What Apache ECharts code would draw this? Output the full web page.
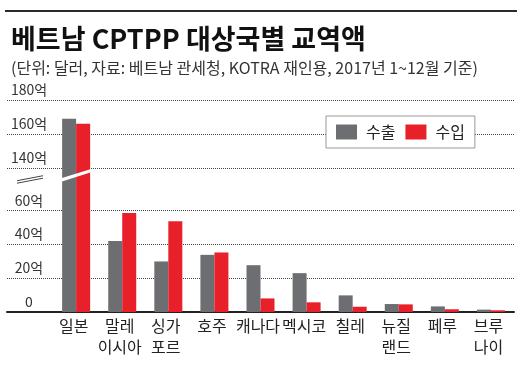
<!DOCTYPE html>
<html>
<head>
<meta charset="utf-8">
<script src="https://cdn.jsdelivr.net/npm/echarts@6/dist/echarts.min.js"></script>
<style>
html, body { margin: 0; padding: 0; background: #fff; }
#main { width: 524px; height: 377px; }
</style>
</head>
<body>
<div id="main"></div>
<script>
// 국가별 (단위: 억 달러)
var categories = ['일본', '말레\n이시아', '싱가\n포르', '호주', '캐나다', '멕시코', '칠레', '뉴질\n랜드', '페루', '브루\n나이'];
var exportData = [169, 41.8, 29.8, 33.7, 27.6, 22.9, 9.8, 4.7, 3.3, 1.4];
var importData = [166, 58.4, 53.5, 35.1, 8.0, 5.7, 3.1, 4.5, 1.6, 1.0];
var tickValues = [0, 20, 40, 60, 140, 160, 180];

// 축 생략 구간 (60억 ~ 140억)
var breakLow = 60, breakHigh = 140, breakGap = 25;
function toAxis(v) {
    if (v == null) return null;
    return v <= breakLow ? v : v - breakHigh + breakLow + breakGap;
}
function tickLabel(v) {
    return v === 0 ? '0' : v + '억';
}

var FONT = '"Noto Sans CJK KR", "Noto Sans", sans-serif';
var myChart = echarts.init(document.getElementById('main'), null, { renderer: 'canvas' });

var xData = [''].concat(categories);
var s1 = [null].concat(exportData.map(toAxis));
var s2 = [null].concat(importData.map(toAxis));
var gridLines = tickValues.filter(function (v) { return v > 0; }).map(function (v) {
    return { yAxis: toAxis(v) };
});

var option = {
    animation: false,
    color: ['#6d6e71', '#e8202a'],
    textStyle: { fontFamily: FONT },
    title: {
        text: '베트남 CPTPP 대상국별 교역액',
        subtext: '(단위: 달러, 자료: 베트남 관세청, KOTRA 재인용, 2017년 1~12월 기준)',
        left: 6,
        top: 20,
        itemGap: 8,
        textStyle: { fontFamily: FONT, fontSize: 27, fontWeight: 'bold', color: '#111' },
        subtextStyle: { fontFamily: FONT, fontSize: 16, color: '#333' }
    },
    legend: {
        data: ['수출', '수입'],
        left: 326,
        top: 116,
        padding: [8, 10, 8, 10],
        itemWidth: 21,
        itemHeight: 15,
        itemGap: 10,
        icon: 'rect',
        backgroundColor: '#fff',
        borderColor: '#999',
        borderWidth: 1,
        borderRadius: 0,
        textStyle: { fontFamily: FONT, fontSize: 16, color: '#222', padding: [0, 0, 0, 4] }
    },
    grid: {
        left: 7,
        right: 10,
        top: 100,
        bottom: 65,
        containLabel: false,
        outerBoundsMode: 'none'
    },
    xAxis: {
        type: 'category',
        data: xData,
        axisLine: { lineStyle: { color: '#222', width: 2 } },
        axisTick: { show: false },
        axisLabel: {
            interval: 0,
            margin: 3,
            fontFamily: FONT,
            fontSize: 16,
            lineHeight: 21,
            color: '#222',
            padding: [0, 5, 0, 0]
        }
    },
    yAxis: {
        type: 'value',
        min: 0,
        max: toAxis(180),
        interval: 5,
        axisLine: { show: false },
        axisTick: { show: false },
        splitLine: { show: false },
        axisLabel: {
            inside: true,
            margin: 22,
            align: 'center',
            verticalAlign: 'bottom',
            padding: [0, 0, 3, 0],
            fontFamily: FONT,
            fontSize: 14,
            color: '#333',
            formatter: function (val) {
                for (var i = 0; i < tickValues.length; i++) {
                    if (Math.abs(toAxis(tickValues[i]) - val) < 0.01) return tickLabel(tickValues[i]);
                }
                return '';
            }
        }
    },
    series: [
        {
            name: '수출',
            type: 'bar',
            data: s1,
            barWidth: 14,
            barGap: '0%',
            markLine: {
                silent: true,
                z: 1,
                symbol: 'none',
                label: { show: false },
                lineStyle: { type: 'dotted', color: '#444', width: 1 },
                data: gridLines
            }
        },
        {
            name: '수입',
            type: 'bar',
            data: s2,
            barWidth: 14,
            barGap: '0%'
        }
    ]
};
myChart.setOption(option);

// 생략 표시 (막대 위 흰 사선, 축 쪽 이중 사선)
var cx = myChart.convertToPixel({ xAxisIndex: 0 }, categories[0]);
var yb = myChart.convertToPixel({ yAxisIndex: 0 }, 80.6);
var y0 = myChart.convertToPixel({ yAxisIndex: 0 }, 78);
myChart.setOption({
    graphic: [
        {
            type: 'line',
            shape: { x1: 5, y1: 11, x2: 517, y2: 11 },
            style: { stroke: '#2a2a2a', lineWidth: 2 }
        },
        {
            type: 'polygon',
            z: 10,
            shape: {
                points: [
                    [cx - 15, yb + 3.0], [cx + 15, yb - 6.4],
                    [cx + 15, yb - 3.0], [cx - 15, yb + 6.4]
                ]
            },
            style: { fill: '#fff' }
        },
        {
            type: 'line',
            shape: { x1: 17, y1: y0 + 3.5, x2: 43, y2: y0 - 1.5 },
            style: { stroke: '#444', lineWidth: 1 }
        },
        {
            type: 'line',
            shape: { x1: 17, y1: y0 + 1, x2: 43, y2: y0 - 4 },
            style: { stroke: '#444', lineWidth: 1 }
        }
    ]
});
</script>
</body>
</html>
